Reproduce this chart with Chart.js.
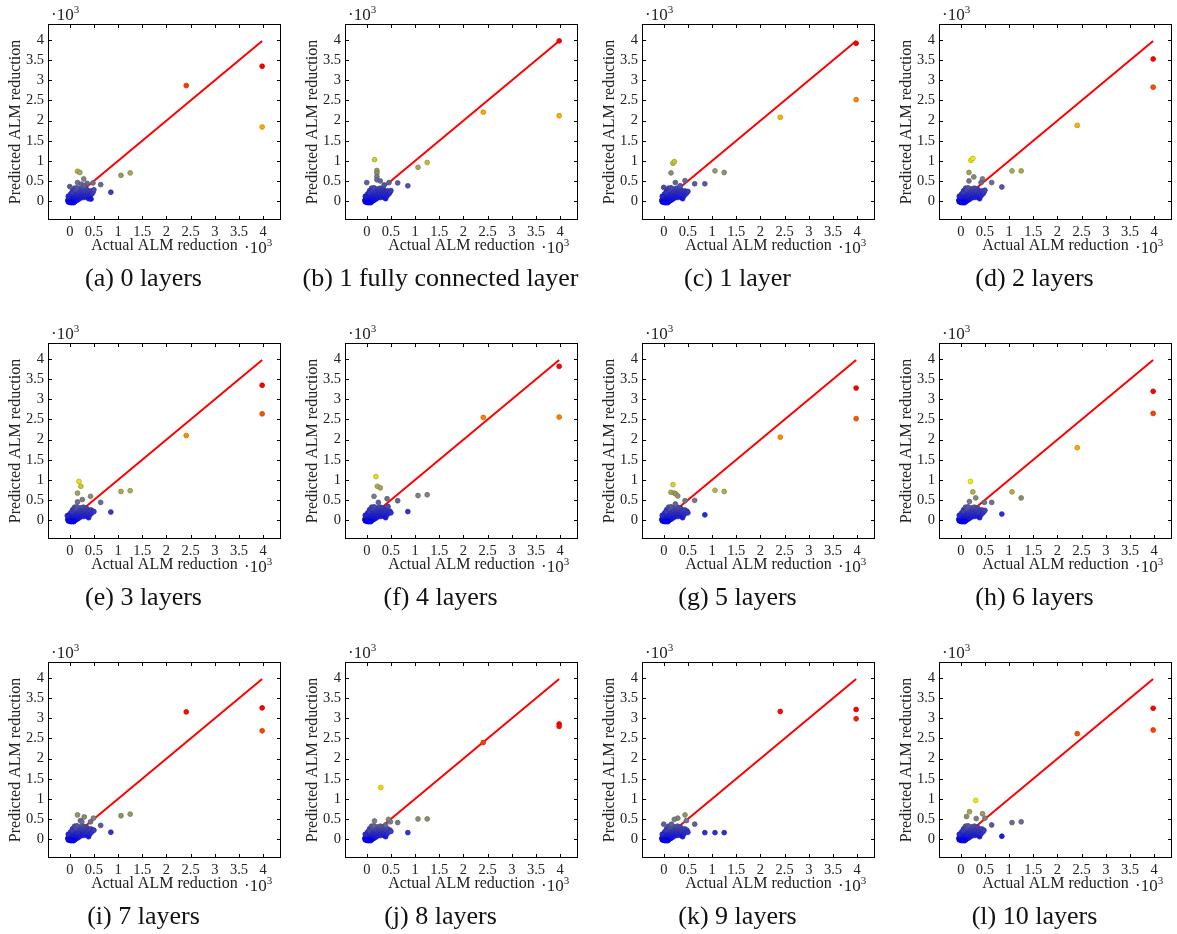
<!DOCTYPE html>
<html lang="en">
<head>
<meta charset="UTF-8">
<title>Predicted vs actual ALM reduction</title>
<script src="https://cdn.jsdelivr.net/npm/chart.js"></script>
<style>
    body {
        margin: 0;
        background: #fff;
        font-family: "Liberation Serif", serif;
    }
    #figure {
        position: relative;
        width: 1177px;
        height: 934px;
    }
    canvas {
        position: absolute;
    }
    .caption {
        position: absolute;
        width: 297px;
        height: 32px;
        line-height: 32px;
        text-align: center;
        font-size: 26px;
        color: #111;
    }
    .exp {
        position: absolute;
        font-size: 17px;
        line-height: 1;
        color: #222;
    }
    .exp sup {
        font-size: 11px;
    }
</style>
</head>
<body>
<div id="figure"></div>

<script>
// values are in units of 10^3
const tickValues = [0, 0.5, 1, 1.5, 2, 2.5, 3, 3.5, 4];
const tickLabels = ['0', '0.5', '1', '1.5', '2', '2.5', '3', '3.5', '4'];
const captions = ['(a) 0 layers', '(b) 1 fully connected layer', '(c) 1 layer', '(d) 2 layers',
                  '(e) 3 layers', '(f) 4 layers', '(g) 5 layers', '(h) 6 layers',
                  '(i) 7 layers', '(j) 8 layers', '(k) 9 layers', '(l) 10 layers'];
const diagonal = [0.3, 3.98];

// dense blob near the origin (same in every panel)
const clusterActual = [-0.04, -0.03, -0.02, 0, 0, 0.01, 0.02, 0.03, 0.04, 0.05, 0.06, 0.07, 0.08, 0.09, 0.1,
                       0.11, 0.12, 0.13, 0.14, 0.15, 0.16, 0.17, 0.18, 0.19, 0.2, 0.21, 0.22, 0.23, 0.24, 0.25,
                       0.26, 0.27, 0.28, 0.29, 0.3, 0.31, 0.32, 0.33, 0.34, 0.35, 0.36, 0.37, 0.38, 0.39, 0.4,
                       0.42, 0.44, 0.46, 0.48, 0.02, -0.03, 0.06, 0.1, 0.05, 0.08, 0.12, 0.15, 0.03];
const clusterPred = [0.02, -0.02, 0.05, -0.03, 0.01, 0.08, -0.01, 0.03, 0.12, -0.02, 0.05, 0.15, 0.01, 0.09, 0.2,
                     -0.01, 0.06, 0.13, 0.24, 0.02, 0.1, 0.18, 0.27, 0.05, 0.14, 0.22, 0.3, 0.08, 0.17, 0.25,
                     0.12, 0.2, 0.32, 0.09, 0.18, 0.26, 0.14, 0.3, 0.22, 0.1, 0.28, 0.17, 0.24, 0.06, 0.2,
                     0.13, 0.25, 0.18, 0.22, 0.18, 0.12, 0.26, 0.32, 0.21, -0.04, 0.28, 0.33, -0.04];

const actualA = [3.98, 3.98, 2.41, 1.25, 1.06, 0.85, 0.64, 0.50, 0.44, 0.16, 0.21, 0.29, 0.00, 0.16, 0.36, 0.48, 0.24, 0.30];
const predA   = [3.35, 1.84, 2.87, 0.70, 0.64, 0.22, 0.41, 0.28, 0.05, 0.74, 0.71, 0.55, 0.36, 0.46, 0.44, 0.45, 0.42, 0.38];
const actualB = [3.98, 3.98, 2.41, 1.25, 1.06, 0.85, 0.64, 0.50, 0.16, 0.21, 0.21, 0.21, 0.21, 0.00, 0.28, 0.46, 0.36];
const predB   = [3.98, 2.12, 2.21, 0.96, 0.84, 0.38, 0.45, 0.26, 1.03, 0.76, 0.70, 0.61, 0.53, 0.46, 0.50, 0.46, 0.40];
const actualC = [3.98, 3.98, 2.41, 1.25, 1.06, 0.85, 0.64, 0.50, 0.19, 0.22, 0.15, 0.00, 0.24, 0.44, 0.34];
const predC   = [3.92, 2.52, 2.08, 0.71, 0.75, 0.43, 0.43, 0.24, 0.94, 0.98, 0.70, 0.34, 0.46, 0.51, 0.38];
const actualD = [3.98, 3.98, 2.41, 1.25, 1.06, 0.85, 0.64, 0.50, 0.21, 0.25, 0.17, 0.27, 0.17, 0.45, 0.42];
const predD   = [3.53, 2.83, 1.88, 0.75, 0.75, 0.35, 0.46, 0.27, 1.01, 1.06, 0.71, 0.60, 0.50, 0.55, 0.46];
const actualE = [3.98, 3.98, 2.41, 1.25, 1.06, 0.85, 0.64, 0.50, 0.19, 0.23, 0.16, 0.43, 0.26, 0.16, -0.05];
const predE   = [3.35, 2.64, 2.10, 0.73, 0.71, 0.20, 0.44, 0.21, 0.96, 0.84, 0.67, 0.59, 0.51, 0.45, 0.11];
const actualF = [3.98, 3.98, 2.41, 1.25, 1.06, 0.85, 0.64, 0.50, 0.19, 0.22, 0.28, 0.15, 0.24, 0.42, 0.44];
const predF   = [3.82, 2.56, 2.55, 0.63, 0.61, 0.21, 0.48, 0.18, 1.08, 0.84, 0.80, 0.59, 0.44, 0.53, 0.34];
const actualG = [3.98, 3.98, 2.41, 1.25, 1.06, 0.85, 0.64, 0.50, 0.19, 0.15, 0.22, 0.25, 0.29, 0.44, 0.24];
const predG   = [3.28, 2.52, 2.06, 0.71, 0.74, 0.13, 0.49, 0.18, 0.88, 0.69, 0.67, 0.65, 0.60, 0.48, 0.40];
const actualH = [3.98, 3.98, 2.41, 1.25, 1.06, 0.85, 0.64, 0.50, 0.20, 0.25, 0.31, 0.18, 0.49];
const predH   = [3.20, 2.65, 1.80, 0.55, 0.70, 0.15, 0.44, 0.24, 0.96, 0.70, 0.55, 0.46, 0.44];
const actualI = [3.98, 3.98, 2.41, 1.25, 1.06, 0.85, 0.64, 0.50, 0.16, 0.30, 0.22, 0.25, 0.49, 0.43];
const predI   = [3.26, 2.69, 3.16, 0.62, 0.58, 0.17, 0.34, 0.22, 0.60, 0.55, 0.46, 0.43, 0.52, 0.43];
const actualJ = [3.98, 3.98, 2.41, 1.25, 1.06, 0.85, 0.64, 0.50, 0.29, 0.16, 0.45, 0.49, 0.39];
const predJ   = [2.86, 2.80, 2.40, 0.50, 0.50, 0.16, 0.41, 0.19, 1.28, 0.45, 0.49, 0.43, 0.35];
const actualK = [3.98, 3.98, 2.41, 1.25, 1.06, 0.85, 0.64, 0.50, 0.44, 0.29, 0.22, 0.00, 0.47, 0.16];
const predK   = [3.22, 2.99, 3.17, 0.16, 0.16, 0.16, 0.37, 0.17, 0.60, 0.52, 0.49, 0.37, 0.46, 0.37];
const actualL = [3.98, 3.98, 2.41, 1.25, 1.06, 0.85, 0.64, 0.50, 0.31, 0.18, 0.45, 0.12, 0.32];
const predL   = [3.25, 2.71, 2.62, 0.43, 0.41, 0.07, 0.35, 0.52, 0.96, 0.68, 0.63, 0.56, 0.51];

const panels = [
    [actualA, predA], [actualB, predB], [actualC, predC], [actualD, predD],
    [actualE, predE], [actualF, predF], [actualG, predG], [actualH, predH],
    [actualI, predI], [actualJ, predJ], [actualK, predK], [actualL, predL]
];

// pgfplots "hot" colormap: blue -> yellow -> orange -> red
function hot(t) {
    const stops = [[0, 0, 255], [255, 255, 0], [255, 128, 0], [255, 0, 0]];
    const s = Math.min(Math.max(t, 0), 1) * 3;
    const i = Math.min(Math.floor(s), 2);
    const f = s - i;
    return stops[i].map((c, k) => Math.round(c + (stops[i + 1][k] - c) * f));
}

const framePlugin = {
    id: 'frame',
    afterDraw(chart) {
        const {ctx, chartArea: a, scales: {x, y}} = chart;
        ctx.save();
        ctx.strokeStyle = '#000';
        ctx.lineWidth = 1;
        ctx.strokeRect(a.left + 0.5, a.top + 0.5, a.right - a.left - 1, a.bottom - a.top - 1);
        ctx.beginPath();
        x.ticks.forEach(t => {
            const px = Math.round(x.getPixelForValue(t.value)) + 0.5;
            ctx.moveTo(px, a.bottom); ctx.lineTo(px, a.bottom - 4);
            ctx.moveTo(px, a.top); ctx.lineTo(px, a.top + 4);
        });
        y.ticks.forEach(t => {
            const py = Math.round(y.getPixelForValue(t.value)) + 0.5;
            ctx.moveTo(a.left, py); ctx.lineTo(a.left + 4, py);
            ctx.moveTo(a.right, py); ctx.lineTo(a.right - 4, py);
        });
        ctx.stroke();
        ctx.restore();
    }
};

const tickFont = {family: 'Liberation Serif', size: 14.5};
const titleFont = {family: 'Liberation Serif', size: 16};
const fig = document.getElementById('figure');

panels.forEach(([actual, pred], i) => {
    const col = i % 4, row = Math.floor(i / 4);
    const left = col * 297, top = row * 319;

    const canvas = document.createElement('canvas');
    canvas.width = 297;
    canvas.height = 262;
    canvas.style.left = left + 'px';
    canvas.style.top = top + 'px';
    fig.appendChild(canvas);

    const xs = clusterActual.concat(actual);
    const ys = clusterPred.concat(pred);
    const points = xs.map((v, k) => ({x: v, y: ys[k]}));
    const lo = Math.min(...ys), hi = Math.max(...ys);
    const fill = ys.map(v => 'rgb(' + hot((v - lo) / (hi - lo)).join(',') + ')');
    const edge = ys.map(v => 'rgb(' + hot((v - lo) / (hi - lo)).map(c => Math.round(c * 0.8)).join(',') + ')');

    new Chart(canvas.getContext('2d'), {
        type: 'scatter',
        data: {
            datasets: [{
                data: points,
                pointRadius: 2.4,
                pointBorderWidth: 0.8,
                pointBackgroundColor: fill,
                pointBorderColor: edge
            }, {
                type: 'line',
                data: diagonal.map(v => ({x: v, y: v})),
                borderColor: '#ff0000',
                borderWidth: 2,
                pointRadius: 0
            }]
        },
        options: {
            responsive: false,
            animation: false,
            layout: {padding: {top: 24, right: 16, bottom: 2, left: 0}},
            plugins: {legend: {display: false}, tooltip: {enabled: false}},
            scales: {
                x: {
                    type: 'linear',
                    min: -0.45,
                    max: 4.37,
                    afterBuildTicks: s => { s.ticks = tickValues.map(v => ({value: v})); },
                    afterFit: s => { s.height = 40; },
                    grid: {display: false, drawTicks: false},
                    border: {display: false},
                    ticks: {callback: (v, k) => tickLabels[k], padding: 3, color: '#222', font: tickFont, maxRotation: 0, autoSkip: false},
                    title: {display: true, text: 'Actual ALM reduction', color: '#222', font: titleFont, padding: {top: 0, bottom: 5}}
                },
                y: {
                    type: 'linear',
                    min: -0.47,
                    max: 4.4,
                    afterBuildTicks: s => { s.ticks = tickValues.map(v => ({value: v})); },
                    afterFit: s => { s.width = 48; },
                    grid: {display: false, drawTicks: false},
                    border: {display: false},
                    ticks: {callback: (v, k) => tickLabels[k], padding: 4, color: '#222', font: tickFont, autoSkip: false},
                    title: {display: true, text: 'Predicted ALM reduction', color: '#222', font: titleFont, padding: {top: 6, bottom: 0}}
                }
            }
        },
        plugins: [framePlugin]
    });

    const expTop = document.createElement('div');
    expTop.className = 'exp';
    expTop.innerHTML = '·10<sup>3</sup>';
    expTop.style.left = (left + 51) + 'px';
    expTop.style.top = (top + 4) + 'px';
    fig.appendChild(expTop);

    const expBottom = document.createElement('div');
    expBottom.className = 'exp';
    expBottom.innerHTML = '·10<sup>3</sup>';
    expBottom.style.left = (left + 244) + 'px';
    expBottom.style.top = (top + 237) + 'px';
    fig.appendChild(expBottom);

    const cap = document.createElement('div');
    cap.className = 'caption';
    cap.textContent = captions[i];
    cap.style.left = (left - 5) + 'px';
    cap.style.top = (top + 262) + 'px';
    fig.appendChild(cap);
});
</script>
</body>
</html>
